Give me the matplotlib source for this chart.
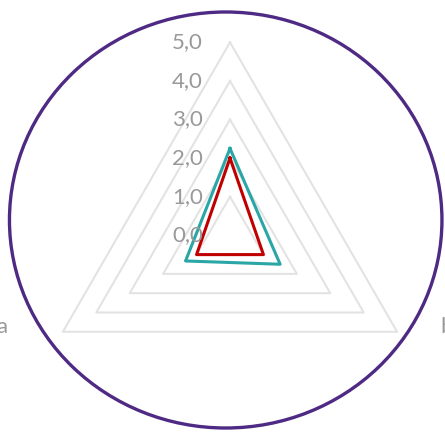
import numpy as np
import matplotlib
matplotlib.use("Agg")
import matplotlib.pyplot as plt
from matplotlib.patches import Ellipse

categories = ["c", "b", "a"]            # clockwise from top
series_teal = [2.25, 1.5, 1.33]
series_red = [2.0, 1.0, 1.0]
levels = [0, 1, 2, 3, 4, 5]
level_labels = ["0,0", "1,0", "2,0", "3,0", "4,0", "5,0"]

W, H = 445, 432
PX = 72 / 100  # points per pixel
fig = plt.figure(figsize=(W / 100, H / 100), dpi=100)

# purple ellipse border (figure pixel coords, y down)
bg = fig.add_axes([0, 0, 1, 1])
bg.set_xlim(0, W)
bg.set_ylim(H, 0)
bg.axis("off")
bg.add_patch(Ellipse((225.7, 220), 432.5, 416, fill=False,
                     edgecolor="#4e2a84", linewidth=2.4, zorder=5))

# radar axes
cx, cy, R = 230, 235.3, 193
ax = fig.add_axes([(cx - R) / W, (H - cy - R) / H, 2 * R / W, 2 * R / H],
                  projection="polar")
ax.set_theta_offset(np.pi / 2)
ax.set_theta_direction(-1)
ax.set_ylim(0, 5)
ax.axis("off")
ax.patch.set_alpha(0)

n = len(categories)
theta = np.arange(n) * 2 * np.pi / n
theta_c = np.append(theta, theta[0])

for lv in levels[1:]:
    ax.plot(theta_c, [lv] * (n + 1), color="#e3e3e3", linewidth=1.5,
            zorder=1, clip_on=False)

ax.plot(theta_c, series_teal + series_teal[:1], color="#2aa6a6",
        linewidth=2.2, zorder=3, clip_on=False)
ax.plot(theta_c, series_red + series_red[:1], color="#c00000",
        linewidth=2.2, zorder=4, clip_on=False)

for lv, lab in zip(levels, level_labels):
    ax.annotate(lab, xy=(0, lv), xytext=(-27 * PX, 0), textcoords="offset points",
                ha="right", va="center", fontsize=16, color="#999999",
                family="Lato", zorder=6, annotation_clip=False)

cat_offsets = [(0, 75), (43, 5), (-55, 5)]
cat_ha = ["center", "left", "right"]
for th, cat, off, ha in zip(theta, categories, cat_offsets, cat_ha):
    ax.annotate(cat, xy=(th, 5), xytext=(off[0] * PX, off[1] * PX),
                textcoords="offset points", ha=ha, va="center", fontsize=16,
                color="#999999", family="Lato", annotation_clip=False)

fig.savefig("out.png", dpi=100)
